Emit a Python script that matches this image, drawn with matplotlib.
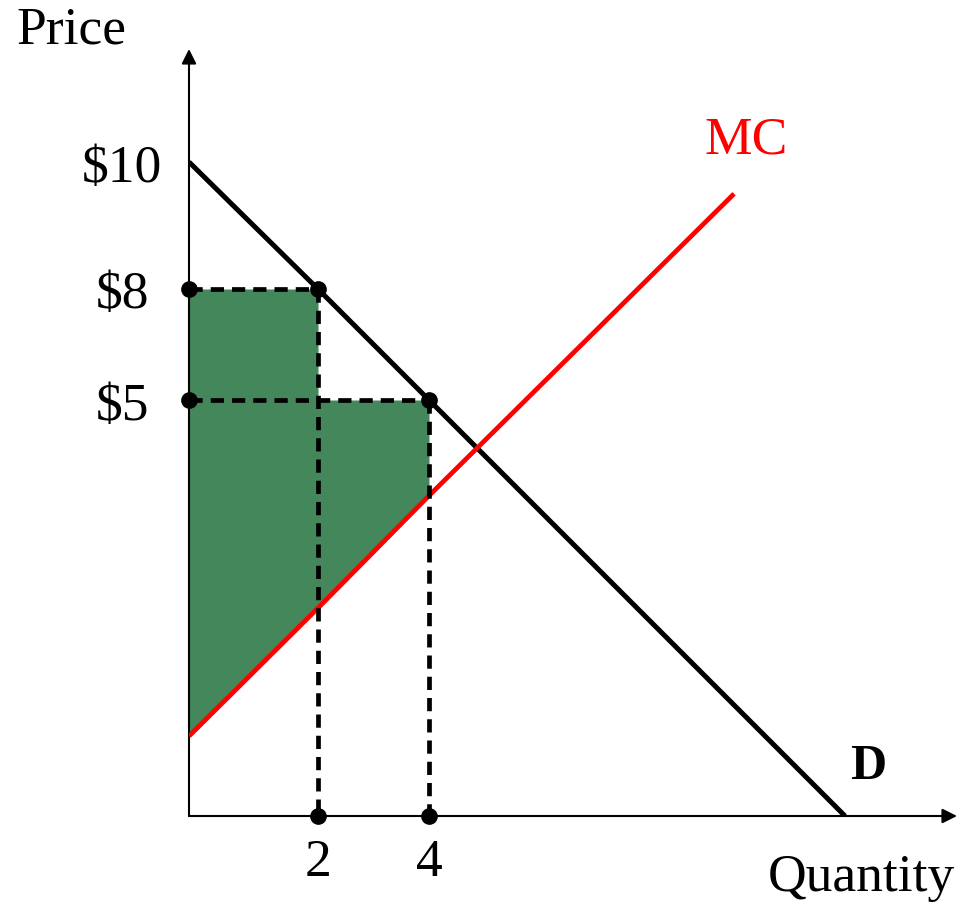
import numpy as np
import matplotlib
matplotlib.use("Agg")
import matplotlib.pyplot as plt

plt.rcParams["font.family"] = ["Liberation Serif", "DejaVu Serif"]

# demand schedule and marginal cost (price in $, quantity in units)
demand_q = [0, 2, 4, 10]
demand_p = [10, 8, 5, 0]
mc_q = [0, 2, 4, 8.4]
mc_p = [0.96, 2.5, 3.85, 9.5]

price_levels = [10, 8, 5]
price_labels = ["$10", "$8", "$5"]
qty_levels = [2, 4]
qty_labels = ["2", "4"]

# units bought at each marked price: step edges of the surplus block
step_q = [0, 2, 2, 4]
step_p = [8, 8, 5, 5]

GREEN = "#44875a"
RED = "#ff0000"

W, H = 971, 904
fig = plt.figure(figsize=(W / 100, H / 100), dpi=100)

# the diagram is schematic: the price and quantity axes are stretched piecewise
ox, oy = 189, 817          # origin in pixels
tip_x, tip_y = 957, 50     # arrow tips
ax = fig.add_axes([ox / W, (H - oy) / H, (tip_x - ox) / W, (oy - tip_y) / H])

qk, qpx = [-10, 0, 2, 4, 10, 20], [-656, 0, 129, 240, 656, 1349]
pk, ppx = [-10, 0, 5, 8, 10, 20], [-832, 0, 416, 527, 654, 1289]


def fwd(k, px):
    return lambda v: np.interp(v, k, px)


def inv(k, px):
    return lambda v: np.interp(v, px, k)


ax.set_xscale("function", functions=(fwd(qk, qpx), inv(qk, qpx)))
ax.set_yscale("function", functions=(fwd(pk, ppx), inv(pk, ppx)))
ax.set_xlim(0, inv(qk, qpx)(tip_x - ox))
ax.set_ylim(0, inv(pk, ppx)(oy - tip_y))

for s in ax.spines.values():
    s.set_visible(False)

# axes with arrow heads
arrow = dict(arrowstyle="-|>", color="black", lw=1.5, mutation_scale=22,
             shrinkA=0, shrinkB=0)
ax.annotate("", xy=(1, 0), xytext=(0, 0), xycoords="axes fraction",
            arrowprops=arrow, annotation_clip=False)
ax.annotate("", xy=(0, 1), xytext=(0, 0), xycoords="axes fraction",
            arrowprops=arrow, annotation_clip=False)

# consumer surplus above MC, up to the price paid for each unit
mc_at = np.interp(step_q, mc_q, mc_p)
ax.fill_between(step_q, step_p, mc_at, color=GREEN, lw=0, zorder=1)

ax.plot(demand_q, demand_p, color="black", lw=3.6, zorder=3,
        solid_capstyle="butt")
ax.plot(mc_q, mc_p, color=RED, lw=3.4, zorder=3, solid_capstyle="butt")

# dashed guides and dots for the two purchases
dash = dict(color="black", lw=3.4, dashes=(2.8, 1.7), zorder=4, clip_on=False)
for q, p in zip(qty_levels, price_levels[1:]):
    ax.plot([0, q], [p, p], **dash)
    ax.plot([q, q], [p, 0], **dash)
    ax.plot([0, q, q], [p, p, 0], "o", color="black", ms=11, zorder=5,
            clip_on=False)

ax.set_yticks(price_levels, labels=price_labels)
ax.set_xticks(qty_levels, labels=qty_labels)
ax.tick_params(length=0, labelsize=38.5)
ax.tick_params(axis="y", pad=48)
ax.tick_params(axis="x", pad=16)
for t in ax.get_yticklabels():
    t.set_horizontalalignment("center")

fig.text(71 / W, 1 - 30 / H, "Price", fontsize=38.5, ha="center", va="center")
fig.text(955 / W, 1 - 878 / H, "Quantity", fontsize=38.5, ha="right",
         va="center")
fig.text(746 / W, 1 - 140 / H, "MC", fontsize=38.5, color=RED, ha="center",
         va="center")
fig.text(868 / W, 1 - 767 / H, "D", fontsize=36, fontweight="bold",
         ha="center", va="center")

fig.savefig("out.png", dpi=100)
